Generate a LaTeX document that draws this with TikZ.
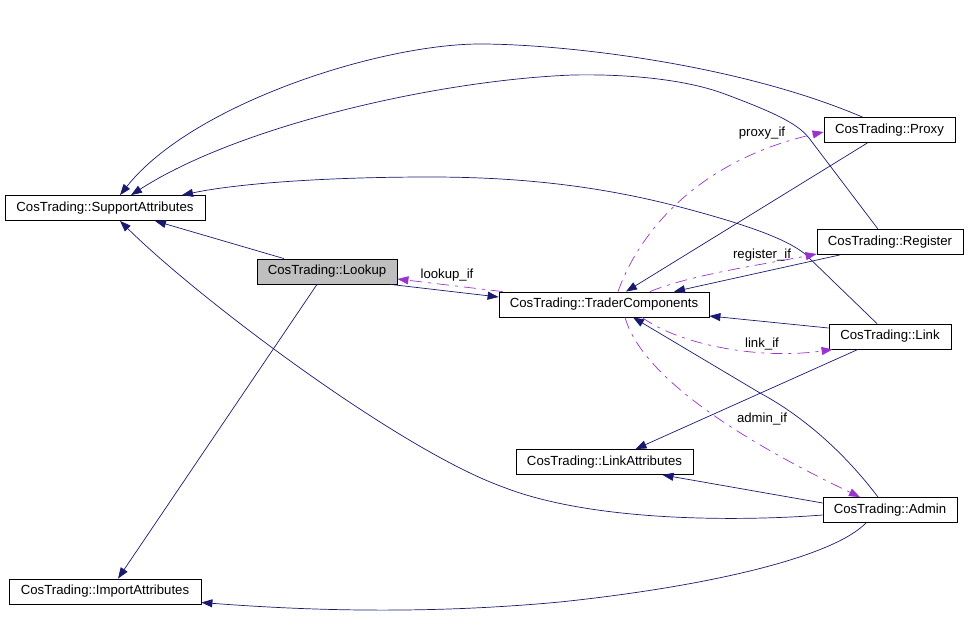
\documentclass[tikz,border=0pt]{standalone}
\usepackage{fontspec}
\setmainfont{Liberation Sans}
\usetikzlibrary{arrows.meta}
\definecolor{edgeblue}{HTML}{191970}
\definecolor{ifpurple}{HTML}{9A32CD}
\definecolor{lookupgray}{HTML}{BFBFBF}

\begin{document}
\begin{tikzpicture}[x=1pt,y=-1pt,
    cls/.style={
% The shape:
rectangle,
% The size:
minimum height=25pt, inner sep=0pt,
% The border:
line width=0.8pt, draw,
font=\fontsize{13.2}{15}\selectfont,
},
    uses/.style={
% The line:
edgeblue, line width=0.7pt,
% The tip:
-{Triangle[length=11pt,width=8pt]},
},
    iface/.style={
% The line:
ifpurple, line width=0.7pt,
dash pattern=on 12pt off 6pt on 3pt off 6pt,
% The tip:
-{Triangle[length=11pt,width=8pt]},
},
    tag/.style={
font=\fontsize{13.2}{15}\selectfont, text=black, inner sep=0pt,
},
]
  \useasboundingbox (0,0) rectangle (968,628);
  \node[cls, minimum width=200pt]               (support) at (105, 208) {CosTrading::SupportAttributes};
  \node[cls, minimum width=140pt, fill=lookupgray] (lookup) at (327, 271.5) {CosTrading::Lookup};
  \node[cls, minimum width=210pt]               (trader) at (604, 304.5) {CosTrading::TraderComponents};
  \node[cls, minimum width=131pt]               (proxy) at (889.5, 130) {CosTrading::Proxy};
  \node[cls, minimum width=146pt]               (register) at (890, 242) {CosTrading::Register};
  \node[cls, minimum width=122pt]               (link) at (890, 336.5) {CosTrading::Link};
  \node[cls, minimum width=177pt]               (linkattr) at (604.5, 462) {CosTrading::LinkAttributes};
  \node[cls, minimum width=134pt]               (admin) at (890, 510) {CosTrading::Admin};
  \node[cls, minimum width=192pt]               (import) at (105, 591.5) {CosTrading::ImportAttributes};

  % to SupportAttributes
  \draw[uses] ([xshift=-27pt]proxy.north) .. controls (736,63) and (560,44) .. (480,44)
    .. controls (380,44) and (192,104) .. ([xshift=15pt]support.north);
  \draw[uses] ([xshift=-12pt]register.north) -- (812,142)
    .. controls (802,128) and (790,118) .. (722,93)
    .. controls (680,78) and (620,74) .. (573,75)
    .. controls (440,80) and (240,125) .. ([xshift=26pt]support.north);
  \draw[uses] ([xshift=-13pt]link.north) -- (805,254)
    .. controls (790,242) and (760,228) .. (680,207)
    .. controls (600,186) and (520,177) .. (430,177)
    .. controls (330,177) and (240,183) .. ([xshift=77pt]support.north);
  \draw[uses] ([xshift=-43pt]lookup.north) -- ([xshift=50pt]support.south);
  \draw[uses] ([yshift=-5pt]admin.west) .. controls (760,520) and (600,525) .. (503,487)
    .. controls (400,450) and (200,300) .. ([xshift=15pt]support.south);

  % to ImportAttributes
  \draw[uses] ([xshift=-10pt]lookup.south) -- ([xshift=13pt]import.north);
  \draw[uses] ([xshift=-24pt]admin.south) .. controls (835,555) and (720,585) .. (560,602)
    .. controls (420,615) and (300,610) .. ([yshift=-11pt]import.east);

  % Lookup and TraderComponents
  \draw[uses] ([xshift=-7pt]lookup.south east) -- ([yshift=7.5pt]trader.west);
  \draw[iface] ([xshift=4pt]trader.north west) -- ([yshift=-7.5pt]lookup.east)
    node[tag] at (447,275) {lookup\_if};

  % the components
  \draw[uses] ([xshift=-22pt]proxy.south) -- ([xshift=22pt]trader.north);
  \draw[iface] ([xshift=14pt]trader.north) .. controls (640,230) and (700,160) .. ([yshift=-2pt]proxy.west)
    node[tag] at (762,133) {proxy\_if};
  \draw[uses] ([xshift=-50pt]register.south) -- ([xshift=70pt]trader.north);
  \draw[iface] ([xshift=46pt]trader.north) .. controls (690,275) and (760,265) .. ([yshift=-12pt]register.west)
    node[tag] at (762,255) {register\_if};
  \draw[uses] ([yshift=8.5pt]link.west) -- ([yshift=-11.5pt]trader.east);
  \draw[iface] ([xshift=38pt]trader.south) .. controls (680,345) and (760,360) .. ([xshift=4pt]link.south west)
    node[tag] at (762,344) {link\_if};
  \draw[uses] ([xshift=-12pt]admin.north) .. controls (850,460) and (810,420) .. (760,393)
    -- ([xshift=29pt]trader.south);
  \draw[iface] ([xshift=21pt]trader.south) .. controls (640,370) and (720,430) .. ([xshift=-30pt]admin.north)
    node[tag] at (762,419) {admin\_if};

  % to LinkAttributes
  \draw[uses] ([xshift=-32pt]link.south) -- ([xshift=31pt]linkattr.north);
  \draw[uses] ([yshift=7pt]admin.west) -- ([xshift=58pt]linkattr.south);
\end{tikzpicture}
\end{document}
